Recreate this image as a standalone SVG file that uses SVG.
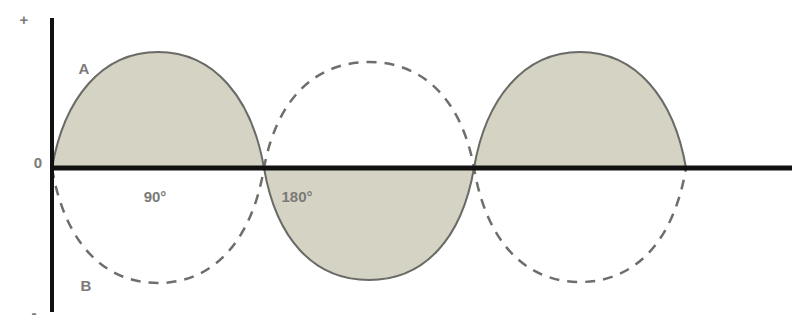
<svg xmlns="http://www.w3.org/2000/svg" width="792" height="329" viewBox="0 0 792 329">
<style>
.lobe{fill:#d5d4c4;stroke:#6a6a66;stroke-width:2}
.dash{fill:none;stroke:#6e6e6a;stroke-width:2.5;stroke-dasharray:10 8}
.axis{stroke:#111;fill:none}
.lbl{font-family:"Liberation Sans",Arial,sans-serif;fill:#7a7a78;font-size:15px;font-weight:bold}
</style>
<rect width="792" height="329" fill="#fff"/>
<g id="wave-a">
<path class="lobe" d="M52,168 C64,98 102,52 158,52 C214,52 252,98 264,168 Z"/>
<path class="lobe" d="M264,168 C276,238 313,280 369,280 C425,280 462,238 474,168 Z"/>
<path class="lobe" d="M474,168 C486,98 524,52 580,52 C636,52 674,98 686,168 Z"/>
</g>
<g id="wave-b">
<path class="dash" d="M52,168 C64,240 102,283 158,283 C214,283 252,240 264,168 C276,102 313,62 369,62 C425,62 462,102 474,168 C486,240 524,282 580,282 C636,282 674,240 686,168"/>
</g>
<g id="axes">
<line class="axis" x1="52" y1="18" x2="52" y2="312" stroke-width="4"/>
<line class="axis" x1="52" y1="168" x2="792" y2="168" stroke-width="5"/>
</g>
<g id="labels">
<text class="lbl" x="24" y="25" text-anchor="middle" font-size="20">+</text>
<text class="lbl" x="84" y="74" text-anchor="middle">A</text>
<text class="lbl" x="38" y="168" text-anchor="middle">0</text>
<text class="lbl" x="155" y="202" text-anchor="middle">90°</text>
<text class="lbl" x="297" y="202" text-anchor="middle">180°</text>
<text class="lbl" x="86" y="291" text-anchor="middle">B</text>
<text class="lbl" x="34" y="318" text-anchor="middle" font-size="18">-</text>
</g>
</svg>
